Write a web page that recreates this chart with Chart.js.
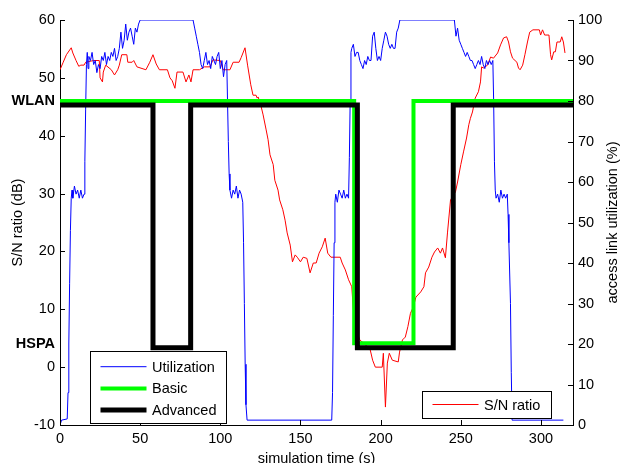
<!DOCTYPE html>
<html>
<head>
<meta charset="utf-8">
<script src="https://cdn.jsdelivr.net/npm/chart.js@4.4.0/dist/chart.umd.min.js"></script>
<style>
  html, body { margin: 0; padding: 0; background: #fff; }
</style>
</head>
<body>
<canvas id="myChart" width="621" height="463"></canvas>
<script>
// axes
const xTicks = [0, 50, 100, 150, 200, 250, 300];
const snrTicks = [-10, 0, 4, 10, 20, 30, 40, 46, 50, 60];
const utilTicks = [0, 10, 20, 30, 40, 50, 60, 70, 80, 90, 100];
const levelNames = { 4: 'HSPA', 46: 'WLAN' };

// Utilization (%), axe de droite
const utilTime = [0, 1, 4.5, 5, 5.5, 6, 6.5, 7, 7.5, 8, 9, 10, 11, 12, 13, 14, 15, 15.5, 16, 16.5,
  17, 17.5, 18, 19, 20, 21, 22, 23, 24, 25, 26, 27, 28, 29, 30, 31, 32, 33, 34, 35, 36, 37, 38, 39,
  40, 41, 42, 43, 44, 45, 46, 47, 48, 49, 50, 83, 84, 85, 86, 87, 88, 89, 90, 91, 92, 93, 94, 95,
  96, 97, 98, 99, 100, 101, 102, 103, 104, 104.5, 105, 105.5, 106, 107, 108, 109, 110, 111, 112,
  113, 114, 114.5, 115, 115.5, 116, 116.7, 169.5, 170, 170.5, 171, 171.5, 172, 173, 174, 175, 176,
  177, 178, 179, 180, 180.5, 181, 181.5, 182, 183, 184, 185, 186, 187, 188, 189, 190, 191, 192,
  193, 194, 195, 196, 197, 198, 199, 200, 201, 202, 203, 204, 205, 206, 207, 208, 209, 210, 211,
  212, 246, 247, 248, 249, 250, 251, 252, 253, 254, 255, 256, 257, 258, 259, 260, 261, 262, 263,
  264, 265, 266, 267, 268, 269, 270, 270.5, 271, 271.5, 272, 273, 274, 275, 276, 277, 278, 279,
  279.5, 280, 281, 281.5, 282, 314];
const utilValue = [0, 1.2, 1.5, 8, 20, 35, 48, 56, 58, 56, 59, 57, 58, 56, 58, 56, 57, 65, 78, 89,
  92, 88, 91, 90, 92, 89, 90, 87, 89, 88, 91, 90, 92, 89, 91, 90, 92, 91, 93, 90, 91, 93, 97, 93,
  95, 99, 95, 97, 98, 96, 94, 98, 97, 99, 100, 100, 98, 96, 94, 92, 89, 88, 90, 92, 89, 90, 88, 91,
  90, 89, 91, 92, 88, 90, 86, 89, 90, 80, 70, 62, 58, 56, 58, 57, 59, 56, 58,
  57, 55, 45, 30, 15, 5, 1.2, 1.2, 8, 27, 45, 55, 57, 55, 58, 57, 56,
  58, 56, 57, 56, 66, 80, 92, 93, 94, 91, 92, 92, 90, 89, 88, 90, 89, 91,
  90, 90, 96, 97, 93, 90, 91, 90, 93, 95, 97, 96, 94, 93, 94, 93, 93, 97, 98,
  100, 100, 96, 98, 95, 94, 93, 92, 91, 92, 91, 90, 90, 89, 88, 89, 90, 89, 91,
  89, 88, 90, 89, 90, 89, 90, 80, 65, 58, 56, 57, 55, 58, 56, 57, 56, 57,
  52, 45, 30, 13, 1.2, 1.2];

// S/N ratio (dB), axe de gauche
const snrTime = [0, 2, 4, 7, 8, 10, 11.7, 13, 15, 16, 21, 24.5, 25, 26.5, 27, 28.5, 32, 34, 36, 37,
  38.5, 41.7, 42.3, 45, 46, 48, 53.6, 56, 58, 60, 62, 67, 68.6, 70, 71.7, 73, 76.7, 78.6, 80.4,
  81.7, 83, 87, 90, 93.6, 95.4, 100, 101.7, 106, 108, 111.7, 113, 115.4, 117, 119, 120.4, 122.3,
  123, 123.6, 125.5, 126.7, 128.6, 129.8, 131, 133, 134, 136, 137, 139, 140.4, 141.7, 143.6, 145,
  146.7, 148, 150, 151.7, 154, 156, 158, 159.8, 161.6, 163.6, 165.4, 167, 169, 174.8, 176, 178,
  180, 182, 183, 185, 187, 190, 193.5, 195, 196.7, 201, 201.7, 203, 204.2, 205.4, 207.3, 211,
  211.8, 213.6, 215.4, 217, 218.6, 220.4, 222, 225, 227, 228, 230, 232, 233.6, 235.6, 237.3,
  238.6, 240.4, 241.7, 243.6, 246.7, 248, 250, 251.7, 253.6, 255, 256, 257.3, 259, 261, 262.3,
  263, 264, 266.7, 268.6, 270.4, 273, 274.8, 276.7, 278.6, 279.8, 281, 282.3, 285, 286, 287,
  288.6, 290, 291.6, 293, 295, 299, 299.8, 301, 302.3, 305, 306, 306.7, 308, 309, 310, 312, 313,
  314, 315];
const snrValue = [51.4, 52.7, 54, 55.2, 54.3, 53, 52, 52.2, 52.2, 52.7, 53, 53, 50, 49.3, 51, 52.2,
  51.4, 50.5, 51.4, 52.2, 54, 54, 52.7, 52.7, 53, 51.9, 51.4, 52.7, 54, 52.4, 51.4, 51.4, 50, 49.5,
  48.2, 51, 51, 49.3, 50.5, 49.3, 51.4, 51.4, 51.9, 51.9, 53.1, 53, 51.4, 51.4, 52.7, 52.7, 53.5,
  55.2, 52.2, 48.8, 47, 47, 46.5, 46.7, 45, 43.6, 41, 39.3, 36.7, 35, 32.3, 30.6, 28.9, 27.2, 25.4,
  23.2, 21.1, 18.2, 19.4, 19, 18.2, 19, 18.8, 16.3, 18, 18, 19.7, 20.8, 22.3, 19.7, 19, 19, 18,
  16.8, 15.1, 13.9, 9.9, 6.4, 4.7, 4, 3, 1.2, 0, 0, 2.4, -6.9, 0.7, 2.4, 1.2, 0.9, 2.6, 4.7, 5.2,
  7, 9.3, 10.4, 12.1, 13, 13.9, 16.3, 17.3, 19, 19.9, 20.6, 19.7, 20.6, 18.9, 23.2, 28.9, 30.3, 32,
  35, 37.2, 39.6, 41.9, 43, 44.1, 46.5, 47.6, 49.3, 51.9, 51.7, 52.2, 53.6, 53.4, 54.3, 55.7, 56.9,
  57.1, 56.2, 54.5, 53.4, 52.7, 51.7, 51.4, 52.2, 54, 56.2, 57.9, 58.3, 58.3, 57.4, 58.3, 57.4,
  57.4, 54, 53.1, 54.5, 54.5, 56.2, 56.2, 57.1, 56.2, 54.3];

// choix du reseau (80 = WLAN, 20 = HSPA sur l'axe de droite)
const basicTime = [0, 183.5, 183.5, 220.5, 220.5, 320];
const basicValue = [80, 80, 20.2, 20.2, 80, 80];
const advancedTime = [0, 58, 58, 81.5, 81.5, 185.5, 185.5, 245.3, 245.3, 320];
const advancedValue = [79, 79, 19.1, 19.1, 79, 79, 19.1, 19.1, 79, 79];

const FONT = "'Liberation Sans', Arial, sans-serif";
const SIZE = 14.5;
Chart.defaults.font.family = FONT;
Chart.defaults.font.size = SIZE;
Chart.defaults.color = '#000';

function points(xs, ys) {
    return xs.map((t, i) => ({ x: t, y: ys[i] }));
}

// petits traits de graduation vers l'interieur (style MATLAB) + titre de droite + legendes
const decor = {
    id: 'decor',
    afterDraw(chart) {
        const ctx = chart.ctx;
        const sx = chart.scales.x, sy = chart.scales.y, sy2 = chart.scales.y2;
        ctx.save();
        ctx.strokeStyle = '#000';
        ctx.lineWidth = 1;
        ctx.beginPath();
        xTicks.forEach(v => {
            const px = Math.round(sx.getPixelForValue(v)) + 0.5;
            ctx.moveTo(px, sx.top);
            ctx.lineTo(px, sx.top - 5);
        });
        snrTicks.filter(v => !levelNames[v]).forEach(v => {
            const py = Math.round(sy.getPixelForValue(v)) + 0.5;
            ctx.moveTo(sy.right, py);
            ctx.lineTo(sy.right + 5, py);
        });
        utilTicks.forEach(v => {
            const py = Math.round(sy2.getPixelForValue(v)) + 0.5;
            ctx.moveTo(sy2.left, py);
            ctx.lineTo(sy2.left - 5, py);
        });
        ctx.stroke();

        // titre de l'axe de droite, lu de bas en haut
        ctx.save();
        ctx.translate(613, (chart.chartArea.top + chart.chartArea.bottom) / 2);
        ctx.rotate(-Math.PI / 2);
        ctx.font = SIZE + 'px ' + FONT;
        ctx.fillStyle = '#000';
        ctx.textAlign = 'center';
        ctx.textBaseline = 'middle';
        ctx.fillText('access link utilization (%)', 0, 0);
        ctx.restore();

        const ds = chart.data.datasets;
        drawLegend(ctx, { x: 90.5, y: 351.5, w: 136, h: 72, first: 15.2, step: 21.7 }, [ds[2], ds[1], ds[0]]);
        drawLegend(ctx, { x: 422.5, y: 391.5, w: 129, h: 27, first: 13, step: 0 }, [ds[3]]);
        ctx.restore();
    }
};

function drawLegend(ctx, box, items) {
    ctx.fillStyle = '#fff';
    ctx.fillRect(box.x, box.y, box.w, box.h);
    ctx.strokeStyle = '#000';
    ctx.lineWidth = 1;
    ctx.strokeRect(box.x, box.y, box.w, box.h);
    ctx.font = SIZE + 'px ' + FONT;
    ctx.textBaseline = 'middle';
    ctx.textAlign = 'left';
    items.forEach((it, i) => {
        const yy = box.y + box.first + i * box.step;
        ctx.strokeStyle = it.borderColor;
        ctx.lineWidth = it.borderWidth;
        ctx.beginPath();
        ctx.moveTo(box.x + 10, yy);
        ctx.lineTo(box.x + 56, yy);
        ctx.stroke();
        ctx.fillStyle = '#000';
        ctx.fillText(it.label, box.x + 61.5, yy + 1);
    });
}

const ctx = document.getElementById('myChart').getContext('2d');
const myChart = new Chart(ctx, {
    type: 'line',
    data: {
        datasets: [
            {
                label: 'Advanced',
                data: points(advancedTime, advancedValue),
                yAxisID: 'y2',
                borderColor: '#000000',
                borderWidth: 5,
                borderJoinStyle: 'miter',
                order: 0
            },
            {
                label: 'Basic',
                data: points(basicTime, basicValue),
                yAxisID: 'y2',
                borderColor: '#00ff00',
                borderWidth: 4,
                borderJoinStyle: 'miter',
                order: 1
            },
            {
                label: 'Utilization',
                data: points(utilTime, utilValue),
                yAxisID: 'y2',
                borderColor: '#0000ff',
                borderWidth: 1,
                order: 2
            },
            {
                label: 'S/N ratio',
                data: points(snrTime, snrValue),
                yAxisID: 'y',
                borderColor: '#ff0000',
                borderWidth: 1,
                order: 3
            }
        ]
    },
    options: {
        responsive: false,
        animation: false,
        events: [],
        layout: { padding: { top: 20, left: 0, right: 0, bottom: 0 } },
        elements: { point: { radius: 0 }, line: { tension: 0, fill: false } },
        plugins: { legend: { display: false }, tooltip: { enabled: false } },
        scales: {
            x: {
                type: 'linear',
                min: 0,
                max: 320,
                grid: { display: false, drawTicks: false },
                border: { display: true, color: '#000', width: 1 },
                afterBuildTicks: s => { s.ticks = xTicks.map(v => ({ value: v })); },
                afterFit: s => { s.height = 38; },
                ticks: { padding: 5, autoSkip: false, maxRotation: 0 },
                title: { display: true, text: 'simulation time (s)', padding: { top: 0, bottom: -5 } }
            },
            y: {
                type: 'linear',
                position: 'left',
                min: -10,
                max: 60,
                grid: { display: false, drawTicks: false },
                border: { display: true, color: '#000', width: 1 },
                afterBuildTicks: s => { s.ticks = snrTicks.map(v => ({ value: v })); },
                afterFit: s => { s.width = 60; },
                ticks: {
                    padding: 5,
                    autoSkip: false,
                    callback: v => levelNames[v] || v,
                    font: c => ({ family: FONT, size: SIZE, weight: (c.tick && levelNames[c.tick.value]) ? 'bold' : 'normal' })
                },
                title: { display: true, text: 'S/N ratio (dB)', padding: { top: 9, bottom: 0 } }
            },
            y2: {
                type: 'linear',
                position: 'right',
                min: 0,
                max: 100,
                grid: { display: false, drawTicks: false },
                border: { display: true, color: '#000', width: 1 },
                afterBuildTicks: s => { s.ticks = utilTicks.map(v => ({ value: v })); },
                afterFit: s => { s.width = 48; },
                ticks: { padding: 5, autoSkip: false }
            }
        }
    },
    plugins: [decor]
});
</script>
</body>
</html>
